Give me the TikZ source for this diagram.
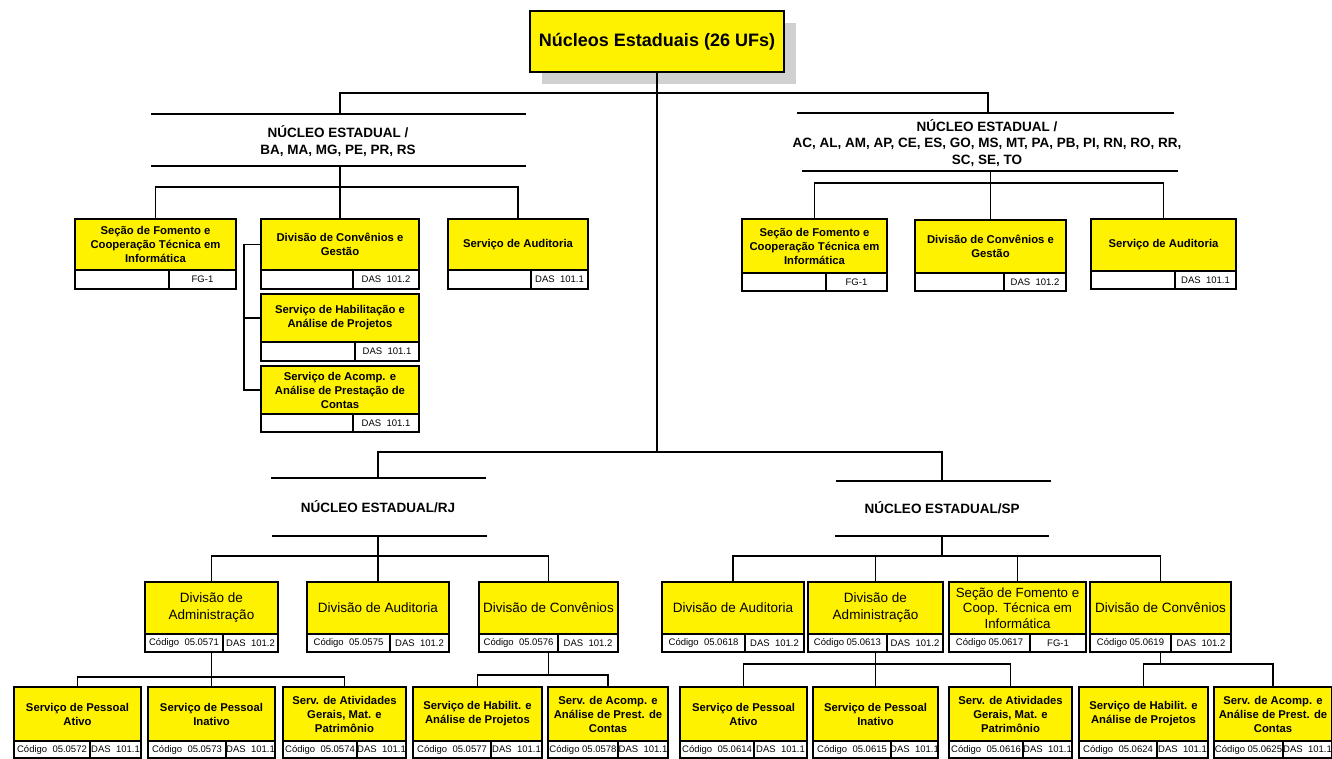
\documentclass[tikz,border=0pt]{standalone}
\usepackage{fontspec}
\setmainfont{Liberation Sans}
\usepackage{xcolor}
\usepackage{tikz}
\usetikzlibrary{calc,shadows}
\definecolor{boxyellow}{RGB}{255,242,0}
\definecolor{shadowgray}{RGB}{208,208,208}
\newcommand{\ubox}[7][]{%
  \node[ubox,#1,minimum width={#4pt-#3pt},minimum height={#6pt-#5pt}] (#2) at ({(#3+#4)/2},{(#5+#6)/2}) {#7};}
\newcommand{\cells}[5]{%
  \draw[cell] (#1.south west) rectangle (#3,#2);
  \draw[cell] (#1.south east) rectangle (#3,#2);
  \path (#3,#2) coordinate (#1-x);
  \coordinate (#1-b) at (#1.south |- #1-x);
  \node[celltext] (#1-l) at ($(#1.south west)!0.5!(#1-x)$) {#4};
  \node[celltext] (#1-r) at ($(#1.south east)!0.5!(#1-x)$) {#5};}

\begin{document}
\begin{tikzpicture}[x=1pt, y=-1pt,
  ubox/.style={draw, line width=1.4pt, fill=boxyellow, inner sep=1pt, outer sep=0pt, align=center, font={\bfseries\fontsize{11.3}{14}\selectfont}},
  mid/.style={font={\fontsize{13.5}{17}\selectfont}},
  titlebox/.style={font={\bfseries\fontsize{18}{22}\selectfont}, drop shadow={shadow xshift=12pt, shadow yshift=-12pt, fill=shadowgray, opacity=1}},
  cell/.style={draw, fill=white, line width=1.3pt},
  celltext/.style={font={\fontsize{9.5}{10}\selectfont}, inner sep=0pt},
  head/.style={align=center, font={\bfseries\fontsize{13.5}{16.5}\selectfont}},
  rule/.style={line width=1.6pt},
  conn/.style={line width=1.4pt}]
  \useasboundingbox (0,0) rectangle (1332,759);

  \ubox[titlebox]{top}{530}{784}{11}{72}{Núcleos Estaduais (26 UFs)}

  \coordinate (hubA) at (657,93);
  \coordinate (hubB) at (657,452);

  \draw[rule] (151,114) -- (526,114);
  \draw[rule] (151,166) -- (526,166);
  \node[head] (bahead) at (338,141) {NÚCLEO ESTADUAL /\\BA, MA, MG, PE, PR, RS};
  \coordinate (baT) at (340,114);
  \coordinate (baB) at (340,166);
  \coordinate (baJ) at (340,187);

  \draw[rule] (797,113) -- (1174,113);
  \draw[rule] (802,171) -- (1178,171);
  \node[head] (achead) at (987,143) {NÚCLEO ESTADUAL /\\AC, AL, AM, AP, CE, ES, GO, MS, MT, PA, PB, PI, RN, RO, RR,\\SC, SE, TO};
  \coordinate (acT) at (988,113);
  \coordinate (acB) at (990.5,171);
  \coordinate (acJ) at (990.5,183);

  \draw[rule] (271,478) -- (486,478);
  \draw[rule] (272,536) -- (487,536);
  \node[head] (rjhead) at (378,507) {NÚCLEO ESTADUAL/RJ};
  \coordinate (rjT) at (378,478);
  \coordinate (rjB) at (378,536);
  \coordinate (rjJ) at (378,556);

  \draw[rule] (836,481) -- (1051,481);
  \draw[rule] (835,536) -- (1049,536);
  \node[head] (sphead) at (942,508) {NÚCLEO ESTADUAL/SP};
  \coordinate (spT) at (942,481);
  \coordinate (spB) at (942,536);
  \coordinate (spJ) at (942,556);

  \ubox{bafom}{75}{236}{219}{270}{Seção de Fomento e\\Cooperação Técnica em\\Informática}
  \cells{bafom}{289}{169}{}{FG-1}
  \ubox{baconv}{261}{419}{219}{270}{Divisão de Convênios e\\Gestão}
  \cells{baconv}{289}{353}{}{DAS~~101.2}
  \ubox{baaud}{448}{588}{219}{270}{Serviço de Auditoria}
  \cells{baaud}{289}{531}{}{DAS~~101.1}
  \ubox{bahab}{261}{419}{294}{342}{Serviço de Habilitação e\\Análise de Projetos}
  \cells{bahab}{361}{355}{}{DAS~~101.1}
  \ubox{baacp}{261}{419}{366}{414}{Serviço de Acomp. e\\Análise de Prestação de\\Contas}
  \cells{baacp}{432}{353}{}{DAS~~101.1}

  \ubox{acfom}{742}{887}{219}{273}{Seção de Fomento e\\Cooperação Técnica em\\Informática}
  \cells{acfom}{291}{826}{}{FG-1}
  \ubox{acconv}{915}{1066}{220}{273}{Divisão de Convênios e\\Gestão}
  \cells{acconv}{291}{1004}{}{DAS~~101.2}
  \ubox{acaud}{1091}{1236}{219}{271}{Serviço de Auditoria}
  \cells{acaud}{289}{1175}{}{DAS~~101.1}

  \ubox[mid]{rjadm}{145}{278}{582}{634}{Divisão de\\Administração}
  \cells{rjadm}{652}{223}{Código~~05.0571}{DAS~~101.2}
  \ubox[mid]{rjaud}{307}{449}{582}{634}{Divisão de Auditoria}
  \cells{rjaud}{652}{390}{Código~~05.0575}{DAS~~101.2}
  \ubox[mid]{rjconv}{479}{618}{582}{634}{Divisão de Convênios}
  \cells{rjconv}{652}{558}{Código~~05.0576}{DAS~~101.2}

  \ubox[mid]{spaud}{662}{804}{582}{634}{Divisão de Auditoria}
  \cells{spaud}{652}{745}{Código~~05.0618}{DAS~~101.2}
  \ubox[mid]{spadm}{808}{943}{582}{634}{Divisão de\\Administração}
  \cells{spadm}{652}{887}{Código 05.0613}{DAS~~101.2}
  \ubox[mid,font={\fontsize{13.3}{15.5}\selectfont}]{spfom}{949}{1086}{582}{634}{Seção de Fomento e\\Coop. Técnica em\\Informática}
  \cells{spfom}{652}{1030}{Código 05.0617}{FG-1}
  \ubox[mid]{spconv}{1090}{1231}{582}{634}{Divisão de Convênios}
  \cells{spconv}{652}{1171}{Código 05.0619}{DAS~~101.2}

  \ubox{rjpat}{14}{141}{687}{741}{Serviço de Pessoal\\Ativo}
  \cells{rjpat}{758}{90}{Código~~05.0572}{DAS~~101.1}
  \ubox{rjpin}{148}{275}{687}{741}{Serviço de Pessoal\\Inativo}
  \cells{rjpin}{758}{226}{Código~~05.0573}{DAS~~101.1}
  \ubox{rjger}{283}{406}{687}{741}{Serv. de Atividades\\Gerais, Mat. e\\Patrimônio}
  \cells{rjger}{758}{357}{Código~~05.0574}{DAS~~101.1}
  \ubox{rjhab}{413}{542}{687}{741}{Serviço de Habilit. e\\Análise de Projetos}
  \cells{rjhab}{758}{491}{Código~~05.0577}{DAS~~101.1}
  \ubox{rjacp}{548}{668}{687}{741}{Serv. de Acomp. e\\Análise de Prest. de\\Contas}
  \cells{rjacp}{758}{618}{Código 05.0578}{DAS~~101.1}

  \ubox{sppat}{680}{807}{687}{741}{Serviço de Pessoal\\Ativo}
  \cells{sppat}{758}{754}{Código~~05.0614}{DAS~~101.1}
  \ubox{sppin}{813}{938}{687}{741}{Serviço de Pessoal\\Inativo}
  \cells{sppin}{758}{891}{Código~~05.0615}{DAS~~101.1}
  \ubox{spger}{949}{1072}{687}{741}{Serv. de Atividades\\Gerais, Mat. e\\Patrimônio}
  \cells{spger}{758}{1023}{Código~~05.0616}{DAS~~101.1}
  \ubox{sphab}{1079}{1208}{687}{741}{Serviço de Habilit. e\\Análise de Projetos}
  \cells{sphab}{758}{1157}{Código~~05.0624}{DAS~~101.1}
  \ubox{spacp}{1214}{1332}{687}{741}{Serv. de Acomp. e\\Análise de Prest. de\\Contas}
  \cells{spacp}{758}{1283}{Código 05.0625}{DAS~~101.1}

  \draw[conn] (top.south) -- (hubB);
  \draw[conn] (baT) |- (hubA) -| (acT);
  \draw[conn] (rjT) |- (hubB) -| (spT);

  \draw[conn] (baB) -- (baconv.north);
  \draw[conn] (bafom.north) |- (baJ) -| (baaud.north);
  \draw[conn] (baconv.west) -- ++(-17,0) |- (baacp.west);
  \draw[conn] (bahab.west) -- ++(-17,0);

  \draw[conn] (acB) -- (acconv.north);
  \draw[conn] (acfom.north) |- (acJ) -| (acaud.north);

  \draw[conn] (rjB) -- (rjaud.north);
  \draw[conn] (rjadm.north) |- (rjJ) -| (rjconv.north);

  \draw[conn] (spB) -- (spJ);
  \draw[conn] (spaud.north) |- (spJ) -| (spconv.north);
  \draw[conn] (spadm.north |- spJ) -- (spadm.north);
  \draw[conn] (spfom.north |- spJ) -- (spfom.north);

  \coordinate (rjadmJ) at (211.5,677);
  \draw[conn] (rjadm-b) -- (rjpin.north);
  \draw[conn] (rjpat.north) |- (rjadmJ) -| (rjger.north);
  \coordinate (rjconvJ) at (548.5,675);
  \draw[conn] (rjconv-b) -- (rjconvJ);
  \draw[conn] (rjhab.north) |- (rjconvJ) -| (rjacp.north);

  \coordinate (spadmJ) at (875.5,664);
  \draw[conn] (spadm-b) -- (sppin.north);
  \draw[conn] (sppat.north) |- (spadmJ) -| (spger.north);
  \coordinate (spconvJ) at (1160.5,664);
  \draw[conn] (spconv-b) -- (spconvJ);
  \draw[conn] (sphab.north) |- (spconvJ) -| (spacp.north);
\end{tikzpicture}
\end{document}
